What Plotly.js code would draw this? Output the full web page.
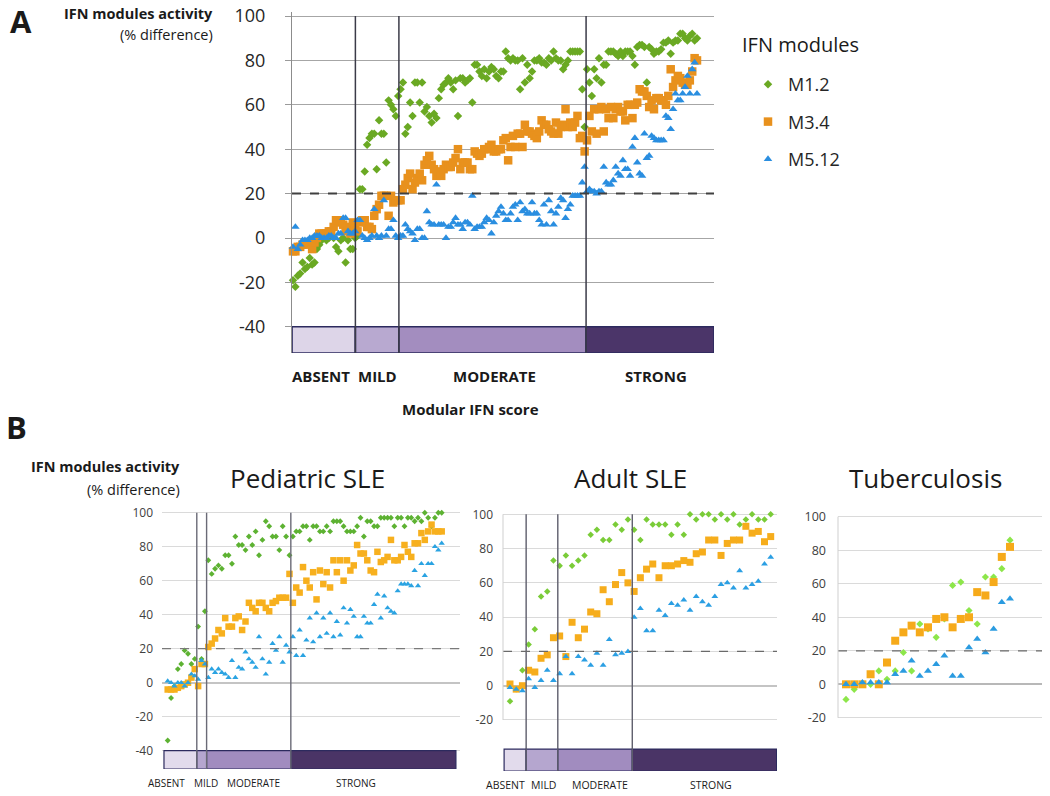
<!DOCTYPE html>
<html><head><meta charset="utf-8">
<script src="https://cdn.plot.ly/plotly-3.0.1.min.js"></script>
<style>html,body{margin:0;padding:0;background:#fff}#chart{width:1050px;height:796px}</style>
</head><body><div id="chart"></div>
<script>
// ---------------- DATA ----------------
const seriesNames = ['M1.2', 'M3.4', 'M5.12'];
const scoreCategories = ['ABSENT', 'MILD', 'MODERATE', 'STRONG'];
const threshold = 20;
const yTicksMain = [-40, -20, 0, 20, 40, 60, 80, 100];
const yTicksPed = [-40, -20, 0, 20, 40, 60, 80, 100];
const yTicksAdult = [-20, 0, 20, 40, 60, 80, 100];
const yTicksTb = [-20, 0, 20, 40, 60, 80, 100];

// Panel A (all samples, sorted by modular IFN score)
const panelA_M12 = [
 -19,-22,-17,-16,-11,-14,-13,-9,-12,-11,
 -5,-3,-1,0,-1,0,1,0,-4,-6,
 -1,0,-11,-1,-5,-5,0,1,22,22,
 30,42,45,47,47,31,53,47,47,34,
 62,60,58,55,64,67,70,47,50,61,
 55,70,70,61,70,57,59,55,52,56,
 54,63,67,69,70,72,70,67,71,55,
 72,72,70,71,72,61,78,78,75,73,
 76,72,75,77,76,73,72,75,75,84,
 81,80,81,80,80,67,81,70,78,72,
 75,80,80,81,79,79,78,81,80,84,
 81,80,80,76,78,80,84,84,84,84,
 84,67,50,76,70,64,76,72,81,70,
 78,78,84,84,84,83,82,84,82,84,
 84,84,82,78,86,87,87,86,70,86,
 85,83,84,84,85,88,88,89,83,88,
 89,89,92,92,90,89,91,92,89,90];
const panelA_M34 = [
 -6,-6,-4,-4,-3,-2,-3,-2,-5,-2,
 0,2,2,2,2,3,3,5,8,8,
 7,6,3,5,2,7,4,3,7,8,
 8,5,5,4,10,13,15,19,19,19,
 10,19,16,17,17,17,22,24,27,29,
 22,25,27,29,26,33,35,37,33,31,
 28,30,28,31,33,32,32,34,36,40,
 31,34,34,34,31,31,39,38,37,38,
 40,40,41,42,39,39,40,40,44,45,
 35,41,46,41,47,47,41,51,48,48,
 47,46,45,48,53,51,51,49,48,47,
 52,47,50,51,58,50,52,50,52,55,
 45,46,39,44,55,48,58,47,58,59,
 48,58,54,59,54,58,59,57,57,53,
 60,60,54,60,61,67,66,66,64,59,
 62,58,63,63,62,62,60,64,76,68,
 71,73,72,70,69,69,71,75,81,80];
const panelA_M512 = [
 -4,5,-5,-3,-1,-1,-1,0,0,1,
 1,1,0,0,0,1,1,0,0,2,
 2,9,9,3,2,2,3,8,8,1,
 0,-1,0,1,13,1,0,1,17,1,
 4,4,8,1,0,1,1,6,4,3,
 2,-1,4,4,0,0,12,7,6,6,
 24,6,6,6,0,5,5,7,9,6,
 6,4,7,7,6,19,4,5,5,5,
 7,9,8,2,7,10,12,14,11,8,
 8,11,14,15,8,16,12,13,11,11,
 16,11,11,8,6,15,6,17,12,6,
 11,14,18,17,9,13,15,19,19,19,
 19,25,32,21,22,21,21,20,21,21,
 32,25,24,24,26,32,29,28,35,31,
 31,28,41,45,34,29,28,47,36,37,
 46,45,44,44,44,44,55,54,49,58,
 65,62,62,65,68,73,65,76,79,65];
const panelA_catEdges = [0.6, 27.1, 45.3, 123.6, 177.1];

// Panel B - Pediatric SLE
const ped_M12 = [-34,-9,-2,8,11,19,17,11,14,33, 14,42,72,64,67,69,67,75,75,70,
 86,81,81,78,86,81,89,75,84,95, 92,86,86,78,92,86,75,86,89,89,
 92,92,84,92,92,89,89,92,89,95, 95,95,92,89,89,89,92,97,86,95,
 95,92,92,97,97,97,97,92,97,97, 92,97,97,95,97,95,100,97,92,97, 100,100];
const ped_M34 = [-4,-4,-4,-3,-2,-1,0,3,8,-2, 11,11,21,23,26,31,29,38,33,33,
 38,39,31,36,47,44,42,47,47,44, 42,47,48,50,50,50,64,47,56,53,
 68,60,56,65,49,66,58,65,56,72, 65,72,60,72,66,69,81,76,76,72,
 66,65,77,71,72,74,84,72,72,74, 81,77,74,82,82,88,84,89,93,89, 89,89];
const ped_M512 = [1,0,-2,0,0,-2,0,5,4,2, 13,11,3,8,6,8,6,5,3,13,
 3,9,8,18,14,12,9,27,14,5, 12,23,19,27,12,22,18,27,16,31,
 16,25,38,24,41,27,38,29,41,27, 36,28,44,35,43,39,27,27,39,35,
 35,46,52,38,51,44,42,41,54,58, 58,58,57,66,57,70,63,70,70,80, 78,82];
const ped_catEdges = [-0.1, 9.6, 12.5, 37.4, 86.2];

// Panel B - Adult SLE
const adult_M12 = [-9,-2,9,24,33,52,55,73,70,76, 70,73,76,88,91,85,85,94,91,97,
 91,85,97,94,94,94,88,94,88,100, 97,100,100,97,100,97,100,94,97,100, 97,97,100];
const adult_M34 = [1,-2,0,9,8,16,18,28,29,17, 37,28,33,43,42,56,49,59,66,60,
 55,63,68,71,63,70,70,71,73,72, 77,78,85,85,76,83,85,85,93,89, 90,84,87];
const adult_M512 = [-1,-2,-3,4,-1,3,9,3,7,17, 7,17,15,12,19,12,27,18,19,20,
 40,45,32,32,44,41,48,47,50,44, 52,49,47,52,59,60,57,67,57,59, 61,71,75];
const adult_catEdges = [0.05, 3.6, 8.7, 20.7, 43.95];

// Panel B - Tuberculosis
const tb_M12 = [-9,-3,0,0,8,3,8,19,8,36,33,28,39,59,61,44,36,64,64,69,86];
const tb_M34 = [0,0,0,6,0,13,26,31,35,31,34,39,40,34,39,40,55,53,61,76,82];
const tb_M512 = [0,0,1,1,1,1,6,8,14,5,8,12,17,5,5,22,27,19,33,49,51];

// ---------------- LAYOUT HELPERS ----------------
const W = 1050, H = 796;
const px = p => p / W, py = p => 1 - p / H;
function axisFromPixels(vA, pA, vB, pB, p0, p1, vertical) {
  const k = (pB - pA) / (vB - vA);
  const v = p => vA + (p - pA) / k;
  return vertical ? {domain: [py(p0), py(p1)], range: [v(p0), v(p1)]}
                  : {domain: [px(p0), px(p1)], range: [v(p0), v(p1)]};
}
const idx = arr => arr.map((_, i) => i + 1);

const axA_y = axisFromPixels(0, 238, 100, 16, 353, 12, true);
const axA_x = axisFromPixels(1, 293, 170, 697, 292, 714, false);
const axP_y = axisFromPixels(0, 682.7, 100, 512.7, 769, 508, true);
const axP_x = axisFromPixels(1, 167.7, 82, 441.7, 162, 460, false);
const axD_y = axisFromPixels(0, 685.7, 100, 514.3, 771, 508, true);
const axD_x = axisFromPixels(1, 510, 43, 770.7, 503, 777, false);
const axT_y = axisFromPixels(0, 684.3, 100, 516.7, 722, 508, true);
const axT_x = axisFromPixels(1, 846, 21, 1010, 838, 1042, false);

const FONT = 'Open Sans, Noto Sans, sans-serif';
const catColorsA = ['#ddd5e8', '#b8a9d0', '#a38dbf', '#4b3569'];
const catColorsB = ['#e2dbec', '#b5a6cf', '#a18cbf', '#4a3466'];

const traces = [];
function scatterSet(xa, ya, s1, s2, s3, colors, sizes, showLegend) {
  const sets = [[s1, 'diamond'], [s2, 'square'], [s3, 'triangle-up']];
  sets.forEach(([vals, sym], k) => {
    traces.push({
      type: 'scatter', mode: 'markers', x: idx(vals), y: vals,
      xaxis: xa, yaxis: ya, name: seriesNames[k], legendgroup: 'g' + k,
      showlegend: showLegend, cliponaxis: false, hoverinfo: 'skip',
      marker: {symbol: sym, color: colors[k], size: sizes[k], line: {width: 0}}
    });
  });
}
function catBar(xa, ya, edges, barTop, bottom, colors, lw) {
  const mids = [], widths = [], heights = [];
  for (let i = 0; i < scoreCategories.length; i++) {
    mids.push((edges[i] + edges[i + 1]) / 2);
    widths.push(edges[i + 1] - edges[i]);
    heights.push(bottom - barTop);
  }
  traces.push({
    type: 'bar', x: mids, y: heights, base: barTop, width: widths,
    xaxis: xa, yaxis: ya, showlegend: false, hoverinfo: 'skip',
    marker: {color: colors, line: {color: '#2c2a5e', width: lw}}
  });
}

catBar('x', 'y', panelA_catEdges, -40, axA_y.range[0], catColorsA, 1.6);
catBar('x2', 'y2', ped_catEdges, -40, axP_y.range[0], catColorsB, 1.2);
catBar('x3', 'y3', adult_catEdges, -37, axD_y.range[0], catColorsB, 1.2);

scatterSet('x', 'y', panelA_M12, panelA_M34, panelA_M512,
  ['#6aa923', '#e8911d', '#2a8ee0'], [6.5, 8.5, 7.5], true);
scatterSet('x2', 'y2', ped_M12, ped_M34, ped_M512,
  ['#5db232', '#f7b01e', '#2aa3e2'], [4.5, 6.5, 5.5], false);
scatterSet('x3', 'y3', adult_M12, adult_M34, adult_M512,
  ['#7acc38', '#f6ad1c', '#2b9fe3'], [5, 7, 6], false);
scatterSet('x4', 'y4', tb_M12, tb_M34, tb_M512,
  ['#8de64a', '#f6aa1a', '#2a9be0'], [5.5, 8, 7], false);

// ---------------- SHAPES ----------------
const shapes = [];
function vLines(xref, yref, edges, y0, y1, color, w) {
  for (let i = 1; i < edges.length - 1; i++) {
    shapes.push({type: 'line', xref: xref, yref: yref, x0: edges[i], x1: edges[i], y0: y0, y1: y1,
      line: {color: color, width: w}});
  }
}
vLines('x', 'y', panelA_catEdges, axA_y.range[0], 100, '#3b3b48', 1.5);
vLines('x2', 'y2', ped_catEdges, axP_y.range[0], 100, '#6a6a76', 1.4);
vLines('x3', 'y3', adult_catEdges, axD_y.range[0], 100, '#5e5e6c', 1.4);
function dashLine(xa, ya, color, w) {
  shapes.push({type: 'line', xref: xa + ' domain', yref: ya, x0: 0, x1: 1, y0: threshold, y1: threshold,
    line: {color: color, width: w, dash: 'dash'}});
}
dashLine('x', 'y', '#404040', 2);
dashLine('x2', 'y2', '#7a7a7a', 1.3);
dashLine('x3', 'y3', '#6a6a6a', 1.3);
dashLine('x4', 'y4', '#6a6a6a', 1.3);
function leftLine(xa, ya, ticks) {
  shapes.push({type: 'line', xref: xa + ' domain', yref: ya, x0: 0, x1: 0, y0: ticks[0], y1: ticks[ticks.length - 1],
    line: {color: '#cfcfcf', width: 1}});
}
leftLine('x3', 'y3', yTicksAdult);
leftLine('x4', 'y4', yTicksTb);

// ---------------- ANNOTATIONS ----------------
const ann = [];
function txt(t, x, y, size, opts) {
  ann.push(Object.assign({text: t, xref: 'paper', yref: 'paper', x: px(x), y: py(y), showarrow: false,
    xanchor: 'center', yanchor: 'middle', font: {family: FONT, size: size, color: '#1a1a1a'}}, opts || {}));
}
txt('<b>A</b>', 8, 21, 31, {xanchor: 'left'});
txt('<b>B</b>', 4, 427, 31, {xanchor: 'left'});
txt('<b>IFN modules activity</b>', 215, 13, 14.5, {xanchor: 'right'});
txt('(% difference)', 215, 34, 14.5, {xanchor: 'right'});
txt('<b>IFN modules activity</b>', 182, 466, 14.5, {xanchor: 'right'});
txt('(% difference)', 182, 490, 14.5, {xanchor: 'right'});
txt('<b>Modular IFN score</b>', 470, 409, 15);
txt('IFN modules', 740, 45, 20, {xanchor: 'left'});
txt('Pediatric SLE', 307, 478, 26);
txt('Adult SLE', 630, 478, 26);
txt('Tuberculosis', 925, 478, 26);
const labA = [321, 377, 494, 656], labP = [166, 206, 253, 356], labD = [505, 543, 600, 711];
scoreCategories.forEach((c, i) => {
  txt('<b>' + c + '</b>', labA[i], 376, 15);
  txt(c, labP[i], 783, 10);
  txt(c, labD[i], 785, 10.5);
});

// ---------------- AXES ----------------
function xAx(a) {
  return {domain: a.domain, range: a.range, showgrid: false, zeroline: false, showticklabels: false,
    showline: false, ticks: '', fixedrange: true};
}
function yAx(a, ticks, o) {
  return Object.assign({domain: a.domain, range: a.range, tickmode: 'array', tickvals: ticks,
    ticktext: ticks.map(t => String(t)),
    showgrid: true, zeroline: false, showline: false, ticks: '', fixedrange: true}, o);
}
const layout = {
  width: W, height: H, margin: {l: 0, r: 0, t: 0, b: 0}, autosize: false,
  paper_bgcolor: '#ffffff', plot_bgcolor: 'rgba(0,0,0,0)',
  font: {family: FONT, color: '#262626'},
  showlegend: true, bargap: 0,
  legend: {x: px(748), y: py(66), xanchor: 'left', yanchor: 'top', font: {size: 18, color: '#262626'},
    tracegroupgap: 11, bgcolor: 'rgba(0,0,0,0)', itemclick: false},
  xaxis: Object.assign(xAx(axA_x), {anchor: 'y'}),
  yaxis: yAx(axA_y, yTicksMain, {anchor: 'x', gridcolor: '#a6a6a6', gridwidth: 1,
    showline: true, linecolor: '#8c8c8c', linewidth: 1, ticks: 'outside', ticklen: 6, tickcolor: '#9a9a9a',
    tickfont: {size: 18, color: '#262626'}, ticklabelstandoff: 16}),
  xaxis2: Object.assign(xAx(axP_x), {anchor: 'y2'}),
  yaxis2: yAx(axP_y, yTicksPed, {anchor: 'x2', gridcolor: '#dadada', zeroline: true, zerolinecolor: '#c4c4c4',
    zerolinewidth: 2, tickfont: {size: 12, color: '#404040'}, ticklabelstandoff: 8}),
  xaxis3: Object.assign(xAx(axD_x), {anchor: 'y3'}),
  yaxis3: yAx(axD_y, yTicksAdult, {anchor: 'x3', gridcolor: '#dadada', zeroline: true, zerolinecolor: '#c4c4c4',
    zerolinewidth: 2, tickfont: {size: 12, color: '#404040'}, ticklabelstandoff: 9}),
  xaxis4: Object.assign(xAx(axT_x), {anchor: 'y4'}),
  yaxis4: yAx(axT_y, yTicksTb, {anchor: 'x4', gridcolor: '#dadada', zeroline: true, zerolinecolor: '#b8b8b8',
    zerolinewidth: 2, tickfont: {size: 12.5, color: '#404040'}, ticklabelstandoff: 11}),
  shapes: shapes,
  annotations: ann
};
Plotly.newPlot('chart', traces, layout, {staticPlot: true, displayModeBar: false});
</script>
</body></html>
